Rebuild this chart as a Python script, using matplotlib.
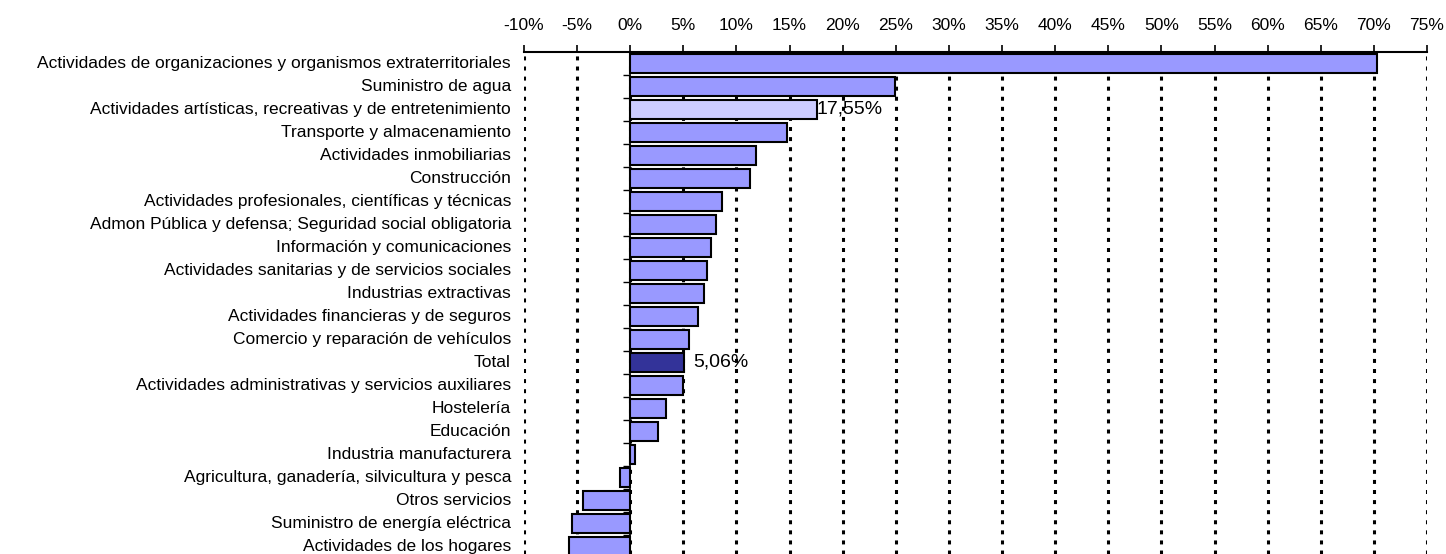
import numpy as np
import matplotlib
matplotlib.use("Agg")
import matplotlib.pyplot as plt
from matplotlib.ticker import FixedLocator, FuncFormatter
import matplotlib.transforms as mtransforms

plt.rcParams['font.family'] = ['Liberation Sans', 'DejaVu Sans']

sectores = [
    "Actividades de organizaciones y organismos extraterritoriales",
    "Suministro de agua",
    "Actividades artísticas, recreativas y de entretenimiento",
    "Transporte y almacenamiento",
    "Actividades inmobiliarias",
    "Construcción",
    "Actividades profesionales, científicas y técnicas",
    "Admon Pública y defensa; Seguridad social obligatoria",
    "Información y comunicaciones",
    "Actividades sanitarias y de servicios sociales",
    "Industrias extractivas",
    "Actividades financieras y de seguros",
    "Comercio y reparación de vehículos",
    "Total",
    "Actividades administrativas y servicios auxiliares",
    "Hostelería",
    "Educación",
    "Industria manufacturera",
    "Agricultura, ganadería, silvicultura y pesca",
    "Otros servicios",
    "Suministro de energía eléctrica",
    "Actividades de los hogares",
]
variacion = [70.3, 24.9, 17.55, 14.8, 11.8, 11.3, 8.6, 8.1, 7.6, 7.2, 6.9, 6.4,
             5.5, 5.06, 5.0, 3.4, 2.6, 0.45, -1.0, -4.4, -5.5, -5.8]
etiquetas = {"Actividades artísticas, recreativas y de entretenimiento": "17,55%",
             "Total": "5,06%"}
x_ticks = list(range(-10, 80, 5))

colores = []
for s in sectores:
    if s == "Total":
        colores.append("#333399")
    elif s in etiquetas:
        colores.append("#CCCCFF")
    else:
        colores.append("#9999FF")

fig = plt.figure(figsize=(14.46, 5.54), dpi=100)
ax = fig.add_axes([524 / 1446, 0, (1427 - 524) / 1446, 1 - 52 / 554])

pos = np.arange(len(sectores))
ax.barh(pos, variacion, height=0.82, color=colores, edgecolor="black",
        linewidth=1.5, zorder=3)

ax.set_xlim(-10, 75)
ax.set_ylim(21.33, -0.5)

# top axis with percent labels
ax.xaxis.tick_top()
ax.xaxis.set_major_locator(FixedLocator(x_ticks))
ax.xaxis.set_major_formatter(FuncFormatter(lambda v, p: f"{v:.0f}%"))
ax.tick_params(axis="x", direction="out", length=5, width=1.2, pad=9,
               labelsize=12.5, colors="black")
ax.grid(axis="x", color="black", linestyle=(0, (1.3, 2.0)), linewidth=2.2,
        zorder=1)

# y axis crossing at 0 with ticks between categories
ax.spines["left"].set_position(("data", 0))
ax.spines["left"].set_linewidth(1.2)
ax.spines["right"].set_visible(False)
ax.spines["bottom"].set_visible(False)
ax.spines["top"].set_linewidth(1.5)
ax.yaxis.set_major_locator(FixedLocator(pos))
ax.yaxis.set_minor_locator(FixedLocator(pos[:-1] + 0.5))
ax.tick_params(axis="y", which="major", length=0, labelleft=False)
ax.tick_params(axis="y", which="minor", direction="out", length=5, width=1)

trans = mtransforms.blended_transform_factory(ax.transAxes, ax.transData)
for i, s in enumerate(sectores):
    ax.text(-13 / 903, i, s, transform=trans, ha="right", va="center",
            fontsize=12.5)

for i, s in enumerate(sectores):
    if s in etiquetas:
        off = 0.0 if s != "Total" else 0.9
        ax.text(variacion[i] + off, i, etiquetas[s], ha="left", va="center",
                fontsize=14, zorder=4)

fig.savefig("out.png", dpi=100)
